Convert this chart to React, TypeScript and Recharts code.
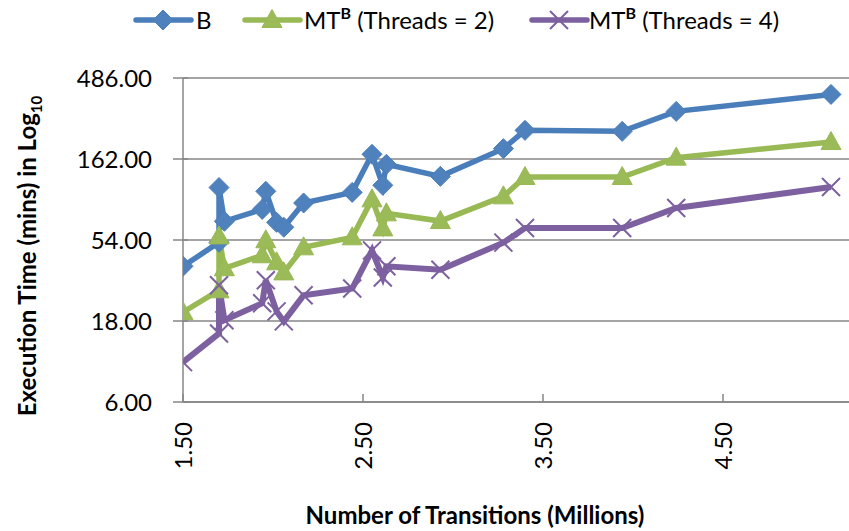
import React from 'react';
import { LineChart, Line, XAxis, YAxis, CartesianGrid } from 'recharts';

// number of transitions (millions), shared by all three runs
const TRANSITIONS = [1.5, 1.7, 1.7, 1.73, 1.94, 1.96, 2.02, 2.06, 2.17, 2.44, 2.55, 2.61, 2.63, 2.93, 3.28, 3.4, 3.94, 4.24, 5.1];
// execution time in minutes
const B_TIMES = [37.8, 52.3, 110, 69.6, 81.8, 104.5, 68.6, 64.2, 89.2, 103, 172.6, 113.4, 150.7, 128, 186.4, 239, 235.7, 309, 389];
const MT2_TIMES = [20.3, 27.3, 56.7, 36.8, 43.9, 53.8, 39.9, 34.8, 48.9, 56, 93.7, 63.2, 77.5, 69.8, 97.6, 126.9, 126.9, 165, 203.9];
const MT4_TIMES = [10.3, 15.2, 29.2, 18.2, 22.9, 31.3, 20.5, 17.9, 25.5, 28, 46.9, 32.5, 37.8, 36.1, 52.1, 63.5, 63.5, 83.3, 110.8];

const Y_TICKS = [6, 18, 54, 162, 486];
const X_TICKS = [1.5, 2.5, 3.5, 4.5];

const data = TRANSITIONS.map((x, i) => ({
  x,
  b: B_TIMES[i],
  mt2: MT2_TIMES[i],
  mt4: MT4_TIMES[i],
}));

const BLUE = '#4A7EBB';
const BLUE_FILL = '#4F81BD';
const GREEN = '#98B954';
const GREEN_FILL = '#9BBB59';
const PURPLE = '#7D60A0';
const AXIS = '#868686';
const FONT = 'Lato, "Open Sans", sans-serif';

const Diamond = ({ cx, cy, r = 10 }: any) => (
  <path d={`M${cx},${cy - r} L${cx + r},${cy} L${cx},${cy + r} L${cx - r},${cy} Z`} fill={BLUE_FILL} stroke={BLUE} strokeWidth={1} />
);

const Triangle = ({ cx, cy, r = 10 }: any) => (
  <path d={`M${cx},${cy - r * 1.05} L${cx + r},${cy + r * 0.75} L${cx - r},${cy + r * 0.75} Z`} fill={GREEN_FILL} stroke={GREEN} strokeWidth={1} />
);

const Cross = ({ cx, cy, r = 9 }: any) => (
  <path d={`M${cx - r},${cy - r} L${cx + r},${cy + r} M${cx - r},${cy + r} L${cx + r},${cy - r}`} stroke={PURPLE} strokeWidth={2} fill="none" />
);

const YTick = ({ x, y, payload }: any) => (
  <g>
    <line x1={x - 10} x2={x + 5} y1={y} y2={y} stroke={AXIS} strokeWidth={1.5} />
    <text x={x - 31} y={y} dy="0.36em" textAnchor="end" fontFamily={FONT} fontSize={24} fill="#000">
      {payload.value.toFixed(2)}
    </text>
  </g>
);

const XTick = ({ x, y, payload }: any) => (
  <g>
    <line x1={x} x2={x} y1={y} y2={y - 8} stroke={AXIS} strokeWidth={1.5} />
    <text
      x={x}
      y={y + 20}
      dy="0.36em"
      textAnchor="end"
      transform={`rotate(-90, ${x}, ${y + 20})`}
      fontFamily={FONT}
      fontSize={24}
      fill="#000"
    >
      {payload.value.toFixed(2)}
    </text>
  </g>
);

const legendItems = [
  { key: 'b', label: 'B', sup: '', color: BLUE, marker: 'diamond', lineX: 136, textX: 196 },
  { key: 'mt2', label: 'MT', sup: 'B', rest: ' (Threads = 2)', color: GREEN, marker: 'triangle', lineX: 245, textX: 304 },
  { key: 'mt4', label: 'MT', sup: 'B', rest: ' (Threads = 4)', color: PURPLE, marker: 'cross', lineX: 532, textX: 589 },
];

const ChartLegend = () => (
  <svg width={849} height={44} style={{ position: 'absolute', left: 0, top: 0 }}>
    {legendItems.map((it) => (
      <g key={it.key}>
        <line x1={it.lineX} x2={it.lineX + 55} y1={20} y2={20} stroke={it.color} strokeWidth={5.5} strokeLinecap="round" />
        {it.marker === 'diamond' && <Diamond cx={it.lineX + 27} cy={20} />}
        {it.marker === 'triangle' && <Triangle cx={it.lineX + 27} cy={20} />}
        {it.marker === 'cross' && <Cross cx={it.lineX + 27} cy={20} />}
        <text x={it.textX} y={20} dy="0.36em" fontFamily={FONT} fontSize={24} fill="#000">
          {it.label}
          {it.sup && (
            <tspan fontSize={16} fontWeight="bold" dy="-0.6em">{it.sup}</tspan>
          )}
          {it.rest && <tspan dy="0.4em">{it.rest}</tspan>}
        </text>
      </g>
    ))}
  </svg>
);

export default function App() {
  return (
    <div style={{ position: 'absolute', left: 0, top: 0, width: 849, height: 531, background: '#fff' }}>
      <LineChart width={849} height={531} data={data} margin={{ top: 78, right: 0, bottom: 0, left: 0 }}>
        <CartesianGrid vertical={false} stroke={AXIS} strokeWidth={1.5} />
        <XAxis
          dataKey="x"
          type="number"
          domain={[1.5, 5.2]}
          ticks={X_TICKS}
          allowDataOverflow
          height={129}
          tickSize={0}
          tickMargin={0}
          tickLine={false}
          axisLine={{ stroke: AXIS, strokeWidth: 1.5 }}
          tick={<XTick />}
          label={{
            content: () => (
              <text x={475} y={515} textAnchor="middle" dy="0.36em" fontFamily={FONT} fontWeight="bold" fontSize={24} fill="#000">
                Number of Transitions (Millions)
              </text>
            ),
          }}
        />
        <YAxis
          type="number"
          scale="log"
          domain={[6, 486]}
          ticks={Y_TICKS}
          allowDataOverflow
          width={183}
          tickSize={0}
          tickMargin={0}
          tickLine={false}
          axisLine={{ stroke: AXIS, strokeWidth: 1.5 }}
          tick={<YTick />}
          label={{
            content: () => (
              <text
                x={27}
                y={256}
                textAnchor="middle"
                dy="0.36em"
                transform="rotate(-90, 27, 256)"
                fontFamily={FONT}
                fontWeight="bold"
                fontSize={24}
                fill="#000"
              >
                Execution Time (mins) in Log<tspan fontSize={15} dy="0.4em">10</tspan>
              </text>
            ),
          }}
        />
        <Line
          dataKey="b"
          stroke={BLUE}
          strokeWidth={5.5}
          isAnimationActive={false}
          dot={(p: any) => <Diamond key={`b-${p.index}`} cx={p.cx} cy={p.cy} />}
        />
        <Line
          dataKey="mt2"
          stroke={GREEN}
          strokeWidth={5.5}
          isAnimationActive={false}
          dot={(p: any) => <Triangle key={`g-${p.index}`} cx={p.cx} cy={p.cy} />}
        />
        <Line
          dataKey="mt4"
          stroke={PURPLE}
          strokeWidth={6}
          isAnimationActive={false}
          dot={(p: any) => <Cross key={`p-${p.index}`} cx={p.cx} cy={p.cy} />}
        />
      </LineChart>
      <ChartLegend />
    </div>
  );
}
